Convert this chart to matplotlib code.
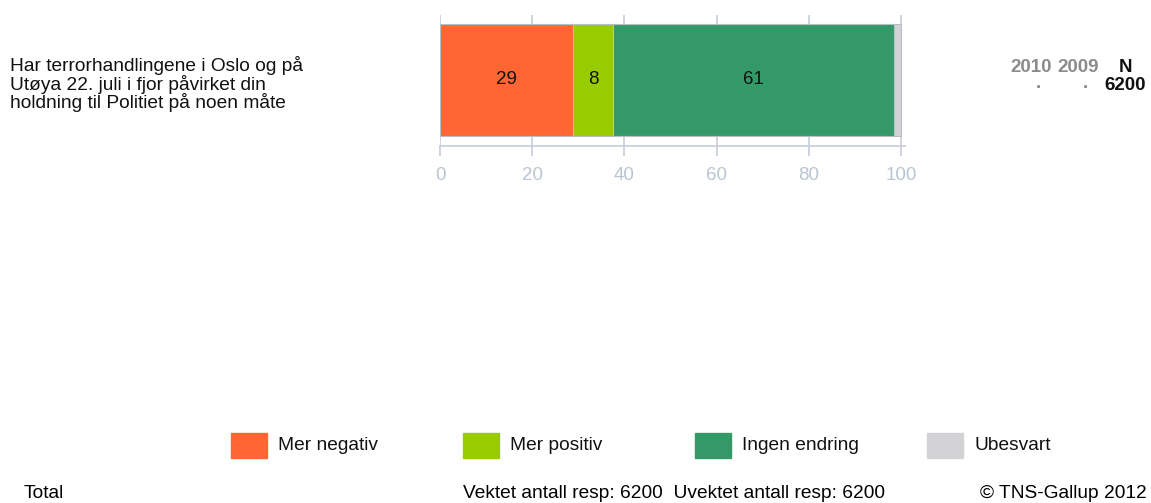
import matplotlib.pyplot as plt
from matplotlib.patches import Rectangle

plt.rcParams['font.family'] = ['Liberation Sans', 'DejaVu Sans']

# data
question = "Har terrorhandlingene i Oslo og på\nUtøya 22. juli i fjor påvirket din\nholdning til Politiet på noen måte"
categories = ["Mer negativ", "Mer positiv", "Ingen endring", "Ubesvart"]
values = [28.9, 8.6, 61.0, 1.5]
labels_shown = ["29", "8", "61", ""]
colors = ["#FF6633", "#99CC00", "#339966", "#D3D3D6"]
ticks = [0, 20, 40, 60, 80, 100]
n_total = 6200

fig = plt.figure(figsize=(11.51, 5.03), dpi=100)
W, H = 1151, 503

# axes placed in pixel units
x0, x1 = 440, 440 + 100.8 * 4.61
y_top, y_bot = 15, 146
ax = fig.add_axes([x0 / W, 1 - y_bot / H, (x1 - x0) / W, (y_bot - y_top) / H])

grid_c = "#C5CDD8"
left = 0
for v, c, lab in zip(values, colors, labels_shown):
    ax.barh(0.504, v, left=left, height=0.855, color=c, edgecolor="#B8BEC6",
            linewidth=0.8, zorder=3)
    if lab:
        ax.text(left + v / 2, 0.504, lab, ha="center", va="center",
                fontsize=13.5, color="#111111", zorder=4)
    left += v

ax.set_xlim(0, 100.8)
ax.set_ylim(0, 1)
ax.set_xticks(ticks)
ax.set_yticks([])
ax.grid(axis="x", color=grid_c, linewidth=1.2, zorder=0)
for s in ["top", "right", "left"]:
    ax.spines[s].set_visible(False)
ax.spines["bottom"].set_color(grid_c)
ax.spines["bottom"].set_linewidth(1.2)
ax.tick_params(axis="x", length=7, width=1.2, color=grid_c, labelcolor="#B9C5D2",
               labelsize=13.5, pad=8)

# question text
fig.text(10 / W, 1 - 84 / H, question, ha="left", va="center", fontsize=13.8,
         linespacing=0.97, color="#111111")

# right-hand columns
hdr = dict(ha="center", va="center", fontsize=13.5, fontweight="bold")
fig.text(1031 / W, 1 - 67 / H, "2010", color="#8C8C8C", **hdr)
fig.text(1078 / W, 1 - 67 / H, "2009", color="#8C8C8C", **hdr)
fig.text(1125 / W, 1 - 67 / H, "N", color="#111111", **hdr)
fig.text(1038 / W, 1 - 83 / H, ".", color="#8C8C8C", **hdr)
fig.text(1085 / W, 1 - 83 / H, ".", color="#8C8C8C", **hdr)
fig.text(1146 / W, 1 - 85 / H, str(n_total), ha="right", va="center",
         fontsize=13.5, fontweight="bold", color="#111111")

# legend
for i, (cat, c) in enumerate(zip(categories, colors)):
    lx = 231 + i * 232
    fig.patches.append(Rectangle((lx / W, 1 - 458 / H), 36 / W, 25 / H,
                                 transform=fig.transFigure, color=c))
    fig.text((lx + 47) / W, 1 - 445 / H, cat, ha="left", va="center",
             fontsize=13.8, color="#111111")

# footer
fig.text(24 / W, 1 - 493 / H, "Total", ha="left", va="center", fontsize=13.8)
fig.text(463 / W, 1 - 493 / H,
         f"Vektet antall resp: {n_total}  Uvektet antall resp: {n_total}",
         ha="left", va="center", fontsize=13.8)
fig.text(1147 / W, 1 - 493 / H, "© TNS-Gallup 2012", ha="right", va="center",
         fontsize=13.8)

fig.savefig("out.png", dpi=100)
